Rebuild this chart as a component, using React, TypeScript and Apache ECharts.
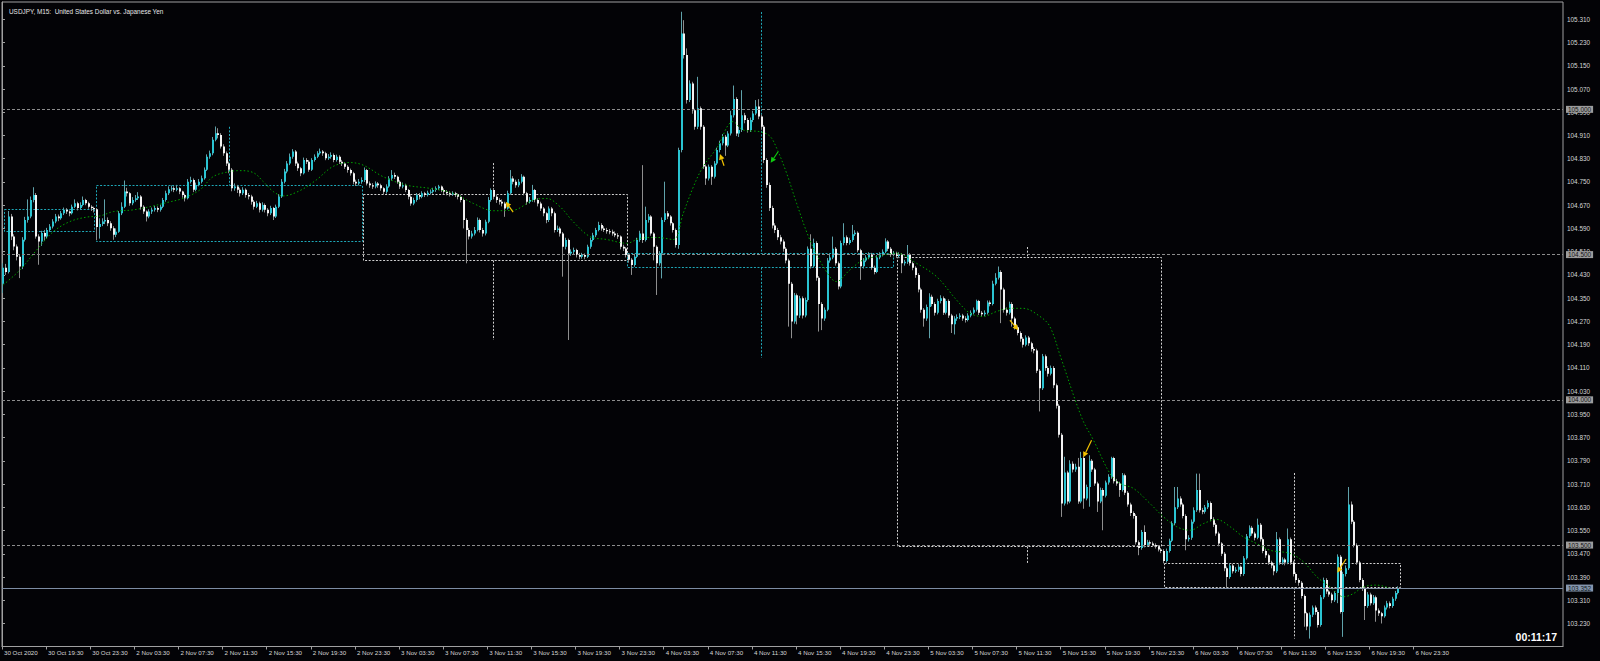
import React, { useEffect, useRef } from "react";
import * as echarts from "echarts";

// Prices are stored in thousandths above 103.000 (e.g. 1455 -> 104.455)
const BASE = 103;
const FIRST_OPEN = 1400;

const CLOSE = [
  1455,1440,1631,1562,1528,1493,1459,1551,1619,1631,1688,1705,1562,1545,1574,1562,
  1585,1597,1614,1631,1625,1642,1654,1648,1642,1665,1677,1660,1671,1688,1677,1665,
  1660,1656,1595,1605,1614,1619,1608,1591,1568,1579,1642,1665,1717,1711,1677,1688,
  1694,1700,1665,1648,1631,1648,1654,1660,1654,1665,1688,1711,1725,1728,1723,1728,
  1717,1705,1694,1751,1757,1723,1740,1751,1763,1792,1837,1849,1895,1918,1912,1872,
  1849,1814,1792,1728,1734,1723,1711,1723,1705,1700,1682,1665,1677,1654,1671,1654,
  1642,1660,1631,1665,1700,1751,1786,1814,1837,1855,1814,1797,1780,1826,1820,1792,
  1826,1837,1849,1855,1849,1832,1837,1843,1826,1837,1820,1814,1802,1791,1780,1751,
  1745,1751,1757,1791,1745,1739,1734,1745,1739,1728,1716,1734,1762,1774,1768,1751,
  1734,1739,1722,1699,1676,1688,1705,1699,1711,1705,1713,1716,1722,1728,1734,1722,
  1716,1711,1709,1711,1705,1699,1688,1619,1585,1562,1573,1585,1619,1585,1573,1613,
  1688,1722,1699,1688,1682,1676,1659,1711,1762,1751,1739,1751,1768,1711,1682,1688,
  1722,1688,1676,1659,1642,1619,1659,1642,1585,1590,1573,1527,1550,1504,1510,1516,
  1499,1493,1499,1493,1527,1550,1567,1585,1602,1590,1585,1580,1579,1573,1567,1562,
  1527,1521,1499,1482,1464,1493,1550,1573,1550,1619,1631,1573,1527,1470,1504,1619,
  1642,1631,1608,1585,1533,1860,2261,2187,2032,2089,1997,1940,2004,1940,1803,1762,
  1802,1768,1814,1860,1883,1906,1876,1917,1980,2036,1917,1929,1980,1963,1929,1963,
  1986,2010,1975,1940,1826,1740,1660,1600,1585,1560,1545,1520,1480,1400,1270,1360,
  1290,1350,1290,1344,1520,1460,1540,1420,1330,1280,1310,1480,1490,1520,1470,1390,
  1540,1560,1540,1550,1570,1575,1515,1460,1480,1490,1500,1455,1440,1490,1500,1510,
  1545,1520,1500,1505,1495,1500,1470,1475,1500,1470,1455,1430,1380,1310,1280,1320,
  1355,1330,1300,1340,1350,1300,1340,1290,1260,1280,1285,1290,1280,1275,1290,1300,
  1310,1340,1300,1295,1300,1335,1330,1400,1420,1440,1380,1310,1300,1330,1280,1250,
  1230,1210,1190,1215,1195,1175,1170,1100,1040,1150,1110,1090,1110,1050,980,880,
  643,750,650,780,760,770,650,800,660,700,790,760,712,650,690,670,
  715,735,800,720,712,690,740,680,640,610,600,510,490,545,500,510,
  505,500,495,485,480,445,480,515,575,630,660,640,600,520,525,580,
  620,690,620,615,630,645,590,570,540,505,470,420,390,430,410,415,
  425,400,455,530,560,540,525,570,520,480,465,440,430,410,520,440,
  450,440,520,440,400,380,370,325,265,220,260,285,270,225,320,380,
  340,330,310,335,460,270,400,420,640,580,500,440,380,350,290,330,
  300,320,275,265,255,285,300,290,315,335,352,
];

const HIGH = [
  1470,1468,1650,1640,1570,1535,1500,1560,1630,1690,1700,1732,1712,1570,1582,1585,
  1592,1605,1622,1640,1638,1650,1662,1660,1652,1672,1690,1682,1680,1700,1692,1682,
  1670,1665,1660,1625,1625,1690,1628,1615,1598,1590,1650,1680,1755,1730,1715,1698,
  1705,1715,1705,1670,1652,1656,1662,1668,1666,1672,1695,1720,1735,1738,1735,1740,
  1732,1720,1710,1760,1768,1762,1748,1760,1772,1800,1845,1858,1905,1941,1935,1918,
  1880,1855,1820,1798,1745,1740,1730,1732,1728,1712,1706,1688,1685,1682,1680,1676,
  1660,1668,1664,1672,1708,1760,1795,1822,1848,1863,1860,1820,1802,1834,1832,1825,
  1832,1845,1856,1865,1860,1854,1846,1852,1848,1844,1842,1826,1818,1808,1796,1785,
  1758,1760,1766,1800,1795,1752,1746,1752,1750,1744,1732,1742,1770,1791,1782,1772,
  1756,1748,1744,1726,1704,1696,1712,1712,1718,1716,1720,1724,1730,1735,1740,1738,
  1728,1722,1718,1718,1716,1710,1704,1692,1625,1592,1582,1595,1628,1624,1592,1620,
  1698,1728,1726,1706,1694,1690,1682,1720,1791,1770,1758,1760,1777,1772,1716,1698,
  1740,1726,1694,1682,1664,1646,1666,1664,1648,1600,1596,1578,1558,1555,1518,1524,
  1520,1506,1506,1504,1534,1558,1575,1592,1613,1608,1598,1592,1588,1586,1580,1574,
  1566,1534,1526,1504,1488,1500,1558,1582,1808,1665,1640,1636,1578,1532,1512,1628,
  1751,1650,1636,1612,1590,1868,2336,2307,2210,2100,2095,2002,2112,2010,1946,1810,
  1810,1808,1822,1868,1892,1915,1912,1925,1995,2082,2042,1940,2066,1988,1970,1972,
  1995,2032,2035,1982,1946,1832,1748,1668,1608,1592,1568,1552,1526,1486,1406,1368,
  1366,1358,1356,1352,1528,1570,1555,1546,1426,1336,1318,1488,1500,1562,1526,1476,
  1548,1608,1566,1558,1602,1584,1580,1520,1488,1498,1508,1506,1462,1498,1508,1518,
  1556,1550,1526,1512,1510,1508,1505,1482,1533,1505,1476,1460,1436,1386,1316,1328,
  1367,1362,1336,1348,1360,1356,1348,1346,1296,1288,1294,1298,1296,1288,1298,1308,
  1318,1345,1344,1306,1308,1342,1342,1410,1436,1459,1446,1386,1318,1338,1336,1286,
  1256,1236,1216,1222,1220,1200,1182,1176,1106,1158,1156,1116,1118,1116,1056,986,
  886,804,756,792,788,780,800,821,806,708,809,796,766,718,698,696,
  722,744,804,804,728,718,748,746,686,646,616,606,516,552,568,518,
  516,512,506,500,490,486,488,522,582,700,700,668,646,606,534,588,
  630,746,746,628,638,654,650,596,576,546,510,476,426,438,436,424,
  434,430,462,538,568,566,546,591,576,526,486,470,446,436,545,526,
  458,456,557,526,446,406,386,376,330,270,268,292,292,276,328,388,
  386,346,336,342,468,466,408,430,700,650,586,506,446,386,356,338,
  336,328,326,282,270,292,308,306,322,342,358,
];

const LOW = [
  1368,1430,1435,1550,1515,1480,1419,1450,1545,1610,1625,1680,1555,1465,1530,1548,
  1555,1578,1590,1608,1615,1620,1636,1640,1632,1638,1660,1652,1655,1666,1670,1658,
  1650,1645,1550,1555,1598,1605,1598,1582,1551,1560,1575,1636,1660,1700,1668,1670,
  1682,1688,1655,1640,1614,1625,1640,1648,1646,1648,1660,1682,1705,1718,1715,1718,
  1708,1696,1683,1690,1745,1715,1718,1735,1745,1758,1788,1830,1842,1890,1900,1865,
  1840,1805,1780,1718,1720,1712,1700,1705,1696,1690,1672,1655,1660,1645,1648,1645,
  1632,1636,1619,1626,1660,1695,1745,1780,1808,1830,1805,1788,1770,1776,1812,1785,
  1788,1820,1832,1844,1840,1825,1826,1830,1818,1820,1812,1805,1795,1782,1772,1742,
  1736,1738,1744,1750,1738,1730,1726,1728,1730,1720,1706,1710,1730,1755,1760,1744,
  1726,1728,1715,1690,1668,1670,1682,1690,1694,1698,1700,1708,1710,1716,1722,1715,
  1708,1704,1700,1702,1698,1690,1680,1590,1470,1552,1555,1566,1580,1576,1562,1566,
  1608,1682,1690,1678,1672,1666,1630,1655,1706,1742,1730,1732,1745,1704,1672,1676,
  1682,1680,1666,1650,1632,1608,1612,1632,1576,1578,1562,1424,1518,1206,1496,1502,
  1490,1484,1486,1484,1488,1520,1545,1560,1580,1582,1578,1572,1570,1565,1560,1554,
  1518,1512,1490,1472,1430,1458,1488,1544,1540,1545,1610,1565,1480,1361,1462,1418,
  1612,1622,1600,1576,1524,1520,1852,2175,2020,2025,1985,1930,1932,1930,1795,1740,
  1755,1740,1762,1808,1852,1876,1840,1870,1910,1972,1908,1905,1922,1952,1920,1922,
  1956,1980,1966,1930,1815,1730,1650,1590,1574,1550,1535,1510,1470,1252,1212,1262,
  1260,1282,1280,1284,1338,1452,1455,1410,1235,1240,1272,1305,1472,1484,1462,1380,
  1384,1532,1532,1534,1544,1564,1508,1413,1452,1474,1484,1448,1432,1436,1484,1494,
  1505,1512,1492,1494,1488,1488,1436,1462,1468,1462,1446,1420,1370,1300,1252,1272,
  1212,1322,1290,1294,1332,1292,1294,1282,1230,1225,1272,1278,1272,1266,1270,1284,
  1294,1304,1292,1286,1288,1294,1322,1325,1394,1414,1264,1300,1290,1294,1252,1242,
  1222,1200,1180,1184,1186,1166,1160,1092,960,1034,1100,1080,1084,1040,970,870,
  597,636,640,644,750,752,642,644,625,654,632,752,704,614,644,551,
  664,708,728,712,704,666,684,672,632,600,591,502,465,484,492,494,
  498,494,488,478,472,437,440,474,510,568,624,632,592,482,512,518,
  574,614,612,606,608,624,582,562,532,496,462,410,350,384,402,404,
  408,392,394,450,524,532,516,520,512,472,456,432,420,396,404,432,
  432,430,434,432,392,370,360,316,219,207,178,252,260,216,219,314,
  332,322,300,304,300,264,184,392,414,572,492,432,372,342,242,284,
  292,294,236,256,230,250,278,282,284,308,330,
];

// Green dotted moving average (bar position, price)
const MA_X = [0.5,6.5,12.6,18.6,24.7,30.7,35.5,40.4,47.6,53.7,59.7,65.8,71.8,76.7,82.7,86.3,91.2,94.8,98.4,102,108,114,120,126,131,138.3,146.8,155.2,163.7,171,178.2,185.5,192.7,197.6,202.4,207.2,213.3,219.3,226.6,231.4,237.5,243.5,247.1,250.8,254.3,259.2,265.2,268.8,274.9,278.5,281,284.6,288.2,293,297.9,302.7,307.5,312.4,317.2,324.5,331.7,339,346.2,351.1,355.9,360.7,365.6,370.4,376.5,380.1,384,391.7,395.9,401.9,405.5,410.4,416.4,421.3,426.1,431,435.8,440.6,445.5,450.3,455.1,460,467.2,472.1,476.9,481.7,486.6,490.2,493.8,498.7,503.5];
const MA_V = [1396,1447,1516,1579,1614,1629,1633,1648,1654,1665,1679,1694,1723,1769,1786,1789,1782,1751,1717,1702,1720,1757,1803,1817,1808,1768,1739,1728,1711,1676,1651,1653,1688,1693,1665,1613,1562,1552,1539,1556,1559,1552,1642,1734,1803,1866,1958,1929,1923,1908,1866,1780,1677,1551,1459,1407,1447,1482,1493,1505,1470,1424,1344,1298,1287,1304,1315,1315,1287,1252,1147,937,861,746,712,695,643,597,563,551,574,588,563,528,505,482,471,442,391,356,322,333,356,362,351];

// Session boxes (bar positions and prices)
const BOX_START = [0.7, 34.1, 130.8, 226.7, 324.5, 421.3];
const BOX_END = [33.4, 130.6, 226.7, 323.2, 420.4, 507.1];
const BOX_TOP = [1657, 1738, 1708, 1504, 1492, 439];
const BOX_BOTTOM = [1582, 1547, 1481, 1458, 497, 355];
const BOX_MID = [17, 82.3, 178.2, 275.2, 371.8, 468.7];
const BOX_MID_HIGH = [1657, 1940, 1815, 2335, 1526, 748];
const BOX_MID_LOW = [1582, 1614, 1206, 1144, 435, 178];
const BOX_KIND = ["cyan", "cyan", "white", "cyan", "white", "white"];

// Arrow objects (head and tail positions)
const ARROW_HEAD_X = [182.7, 260.4, 278.8, 368.6, 392.2, 484.3];
const ARROW_HEAD_V = [1682, 1846, 1816, 1240, 802, 405];
const ARROW_TAIL_X = [185.4, 261.9, 281.5, 365.6, 395.2, 487.5];
const ARROW_TAIL_V = [1646, 1806, 1854, 1274, 861, 452];
const ARROW_KIND = ["yellow", "yellow", "green", "yellow", "yellow", "yellow"];

const TICK_LABELS = [
  "30 Oct 2020", "30 Oct 19:30", "30 Oct 23:30",
  "2 Nov 03:30", "2 Nov 07:30", "2 Nov 11:30", "2 Nov 15:30", "2 Nov 19:30", "2 Nov 23:30",
  "3 Nov 03:30", "3 Nov 07:30", "3 Nov 11:30", "3 Nov 15:30", "3 Nov 19:30", "3 Nov 23:30",
  "4 Nov 03:30", "4 Nov 07:30", "4 Nov 11:30", "4 Nov 15:30", "4 Nov 19:30", "4 Nov 23:30",
  "5 Nov 03:30", "5 Nov 07:30", "5 Nov 11:30", "5 Nov 15:30", "5 Nov 19:30", "5 Nov 23:30",
  "6 Nov 03:30", "6 Nov 07:30", "6 Nov 11:30", "6 Nov 15:30", "6 Nov 19:30", "6 Nov 23:30",
];
const BARS_PER_LABEL = 16;

const PRICE_TICKS = [
  103.23, 103.31, 103.39, 103.47, 103.55, 103.63, 103.71, 103.79, 103.87, 103.95,
  104.03, 104.11, 104.19, 104.27, 104.35, 104.43, 104.51, 104.59, 104.67, 104.75,
  104.83, 104.91, 104.99, 105.07, 105.15, 105.23, 105.31,
];
const LEVELS = [105.0, 104.5, 104.0, 103.5];
const CURRENT_PRICE = 103.352;

const TITLE = "USDJPY, M15:  United States Dollar vs. Japanese Yen";
const TIMER = "00:11:17";

const Y_MIN = 103.1508;
const Y_MAX = 105.3696;
const X_MAX = 566.2;

const BG = "#030306";
const FONT = "Liberation Sans";
const BULL = "#2ac4d2";
const BEAR = "#f2f2f2";
const BULL_WICK = "#5fa2aa";
const BEAR_WICK = "#8e8e8e";
const CYAN_LINE = "#1ea8b8";
const WHITE_LINE = "#d2d2d2";

const toPrice = (v: number) => BASE + v / 1000;

export default function App() {
  const ref = useRef<HTMLDivElement>(null);

  useEffect(() => {
    document.body.style.margin = "0";
    document.body.style.background = BG;
    if (!ref.current) return;
    const chart = echarts.init(ref.current, undefined, { renderer: "svg" });

    const candleData = CLOSE.map((c, i) => {
      const o = i === 0 ? FIRST_OPEN : CLOSE[i - 1];
      return [i + 0.5, toPrice(o), toPrice(c), toPrice(LOW[i]), toPrice(HIGH[i])];
    });
    const maData = MA_X.map((x, k) => [x, toPrice(MA_V[k])]);
    const boxData = BOX_START.map((s, k) => [
      s, BOX_END[k], toPrice(BOX_TOP[k]), toPrice(BOX_BOTTOM[k]),
      BOX_MID[k], toPrice(BOX_MID_HIGH[k]), toPrice(BOX_MID_LOW[k]), k,
    ]);
    const arrowData = ARROW_HEAD_X.map((x, k) => [
      x, toPrice(ARROW_HEAD_V[k]), ARROW_TAIL_X[k], toPrice(ARROW_TAIL_V[k]), k,
    ]);
    const tickBars = TICK_LABELS.map((_, k) => k * BARS_PER_LABEL);

    const levelLabel = (bg: string, fg: string) => ({
      show: true,
      position: "end",
      distance: 3,
      formatter: (p: any) => Number(p.value).toFixed(3),
      color: fg,
      backgroundColor: bg,
      padding: [1, 2, 0, 2],
      fontSize: 6.4,
      fontFamily: FONT,
    });

    const option: any = {
      animation: false,
      backgroundColor: BG,
      title: {
        text: TITLE,
        left: 4,
        top: 3,
        textStyle: { color: "#e6e6e6", fontSize: 6.4, fontWeight: "normal", fontFamily: FONT },
      },
      grid: {
        left: 2,
        right: 37,
        top: 2,
        bottom: 14.5,
        show: true,
        borderColor: "#a0a0a0",
        borderWidth: 1,
      },
      xAxis: {
        type: "value",
        min: 0,
        max: X_MAX,
        axisLine: { show: true, lineStyle: { color: "#a0a0a0" } },
        axisTick: { show: true, length: 3, customValues: tickBars, lineStyle: { color: "#a0a0a0" } },
        axisLabel: {
          customValues: tickBars,
          formatter: (v: number) => TICK_LABELS[Math.round(v / BARS_PER_LABEL)] || "",
          color: "#d6d6d6",
          fontSize: 6.2,
          fontFamily: FONT,
          align: "left",
          padding: [0, 0, 0, 2],
          margin: 3,
        },
        splitLine: { show: false },
      },
      yAxis: {
        type: "value",
        position: "right",
        min: Y_MIN,
        max: Y_MAX,
        axisLine: { show: true, lineStyle: { color: "#a0a0a0" } },
        axisTick: { show: true, length: 3, customValues: PRICE_TICKS, lineStyle: { color: "#a0a0a0" } },
        axisLabel: {
          customValues: PRICE_TICKS,
          formatter: (v: number) => v.toFixed(3),
          color: "#d6d6d6",
          fontSize: 6.4,
          fontFamily: FONT,
          margin: 4,
        },
        splitLine: { show: false },
      },
      graphic: [
        {
          type: "text",
          right: 43,
          top: 631,
          style: {
            text: TIMER,
            fill: "#ffffff",
            font: `bold 10.5px "${FONT}"`,
          },
        },
      ],
      series: [
        {
          type: "custom",
          name: "boxes",
          silent: true,
          clip: true,
          z: 1,
          data: boxData,
          renderItem: (_p: any, api: any) => {
            const p0 = api.coord([api.value(0), api.value(2)]);
            const p1 = api.coord([api.value(1), api.value(3)]);
            const k = api.value(7);
            const color = BOX_KIND[k] === "cyan" ? CYAN_LINE : WHITE_LINE;
            const style = { fill: "none", stroke: color, lineWidth: 1, lineDash: [2, 1.6] };
            const x0 = Math.round(p0[0]) + 0.5;
            const x1 = Math.round(p1[0]) + 0.5;
            const yT = Math.round(p0[1]) + 0.5;
            const yB = Math.round(p1[1]) + 0.5;
            const children: any[] = [
              { type: "rect", shape: { x: x0, y: yT, width: x1 - x0, height: yB - yT }, style },
            ];
            const mx = Math.round(api.coord([api.value(4), api.value(5)])[0]) + 0.5;
            const mh = api.coord([api.value(4), api.value(5)])[1];
            const ml = api.coord([api.value(4), api.value(6)])[1];
            if (mh < yT - 1) {
              children.push({ type: "line", shape: { x1: mx, y1: mh, x2: mx, y2: yT }, style });
            }
            if (ml > yB + 1) {
              children.push({ type: "line", shape: { x1: mx, y1: yB, x2: mx, y2: ml }, style });
            }
            return { type: "group", children };
          },
        },
        {
          type: "custom",
          name: "candles",
          silent: true,
          clip: true,
          z: 2,
          data: candleData,
          renderItem: (_p: any, api: any) => {
            const x = api.value(0);
            const o = api.value(1);
            const c = api.value(2);
            const l = api.value(3);
            const h = api.value(4);
            const pO = api.coord([x, o]);
            const pC = api.coord([x, c]);
            const pH = api.coord([x, h]);
            const pL = api.coord([x, l]);
            const up = c >= o;
            const bx = Math.round(pO[0]) - 1;
            const top = Math.min(pO[1], pC[1]);
            let hgt = Math.abs(pO[1] - pC[1]);
            if (hgt < 1) hgt = 1;
            return {
              type: "group",
              children: [
                {
                  type: "line",
                  shape: { x1: bx + 0.5, y1: pH[1], x2: bx + 0.5, y2: pL[1] },
                  style: { stroke: up ? BULL_WICK : BEAR_WICK, lineWidth: 1 },
                },
                {
                  type: "rect",
                  shape: { x: bx, y: top, width: 2, height: hgt },
                  style: { fill: up ? BULL : BEAR },
                },
              ],
            };
          },
        },
        {
          type: "line",
          name: "ma",
          silent: true,
          z: 3,
          data: maData,
          smooth: 0.35,
          symbol: "none",
          lineStyle: { color: "#00a300", width: 1, type: [1.5, 2.2] },
          markLine: {
            silent: true,
            symbol: ["none", "none"],
            precision: 3,
            data: [
              ...LEVELS.map((v) => ({
                yAxis: v,
                lineStyle: { color: "#8c8c8c", width: 1, type: [3, 2] },
                label: levelLabel("#9c9c9c", "#141414"),
              })),
              {
                yAxis: CURRENT_PRICE,
                lineStyle: { color: "#7d8ca3", width: 1, type: "solid" },
                label: levelLabel("#8495ad", "#101820"),
              },
            ],
          },
        },
        {
          type: "custom",
          name: "arrows",
          silent: true,
          z: 4,
          data: arrowData,
          renderItem: (_p: any, api: any) => {
            const hP = api.coord([api.value(0), api.value(1)]);
            const tP = api.coord([api.value(2), api.value(3)]);
            const k = api.value(4);
            const col = ARROW_KIND[k] === "green" ? "#10c810" : "#f2c200";
            const dx = hP[0] - tP[0];
            const dy = hP[1] - tP[1];
            const len = Math.hypot(dx, dy) || 1;
            const ux = dx / len;
            const uy = dy / len;
            const hl = 5.5;
            const hw = 2.8;
            const bx = hP[0] - ux * hl;
            const by = hP[1] - uy * hl;
            return {
              type: "group",
              children: [
                {
                  type: "line",
                  shape: { x1: tP[0], y1: tP[1], x2: bx, y2: by },
                  style: { stroke: col, lineWidth: 1.2 },
                },
                {
                  type: "polygon",
                  shape: {
                    points: [
                      [hP[0], hP[1]],
                      [bx - uy * hw, by + ux * hw],
                      [bx + uy * hw, by - ux * hw],
                    ],
                  },
                  style: { fill: col },
                },
              ],
            };
          },
        },
      ],
    };

    chart.setOption(option);
    return () => chart.dispose();
  }, []);

  return (
    <div
      ref={ref}
      style={{ position: "fixed", left: 0, top: 0, width: 1600, height: 661, background: BG }}
    />
  );
}
